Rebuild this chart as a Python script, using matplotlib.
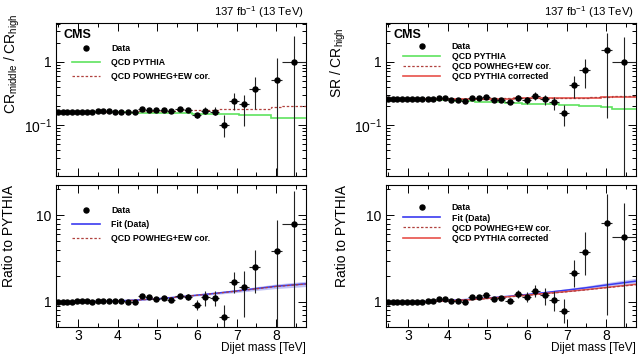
import numpy as np
import matplotlib
matplotlib.use('Agg')
import matplotlib.pyplot as plt
from matplotlib.lines import Line2D
from matplotlib.ticker import LogLocator, FixedLocator, MultipleLocator, NullFormatter, FuncFormatter

plt.rcParams['font.family'] = ['Liberation Sans', 'DejaVu Sans']
plt.rcParams['mathtext.fontset'] = 'custom'
plt.rcParams['mathtext.rm'] = 'Liberation Sans'
plt.rcParams['mathtext.it'] = 'Liberation Sans:italic'
plt.rcParams['mathtext.bf'] = 'Liberation Sans:bold'

# ---------------- data ----------------
data_lo = [2.438, 2.546, 2.659, 2.775, 2.895, 3.019, 3.147, 3.279, 3.416, 3.558, 3.704, 3.854,
           4.010, 4.171, 4.337, 4.509, 4.686, 4.869, 5.058, 5.253, 5.455, 5.663, 5.877, 6.099,
           6.328, 6.564, 6.808, 7.060, 7.320, 7.866, 8.152]
data_hi = [2.546, 2.659, 2.775, 2.895, 3.019, 3.147, 3.279, 3.416, 3.558, 3.704, 3.854, 4.010,
           4.171, 4.337, 4.509, 4.686, 4.869, 5.058, 5.253, 5.455, 5.663, 5.877, 6.099, 6.328,
           6.564, 6.808, 7.060, 7.320, 7.589, 8.152, 8.752]
model_edges = [2.438, 2.546, 2.659, 2.775, 2.895, 3.019, 3.147, 3.279, 3.416, 3.558, 3.704, 3.854,
               4.010, 4.171, 4.337, 4.509, 4.686, 4.869, 5.058, 5.253, 5.455, 5.663, 5.877, 6.099,
               6.328, 6.564, 6.808, 7.060, 7.320, 7.589, 7.866, 8.152, 8.752]

# top-left: CR_middle / CR_high
tl_val = [0.161, 0.161, 0.160, 0.160, 0.160, 0.160, 0.161, 0.159, 0.164, 0.164, 0.165, 0.162,
          0.162, 0.158, 0.160, 0.181, 0.175, 0.172, 0.172, 0.164, 0.180, 0.170, 0.142, 0.167,
          0.162, 0.100, 0.237, 0.215, 0.367, 0.51, 1.0]
tl_lo = [0.159, 0.159, 0.158, 0.158, 0.158, 0.158, 0.159, 0.157, 0.161, 0.161, 0.162, 0.158,
         0.158, 0.154, 0.155, 0.175, 0.169, 0.165, 0.164, 0.155, 0.169, 0.158, 0.131, 0.150,
         0.145, 0.064, 0.170, 0.095, 0.180, 0.0001, 0.0001]
tl_hi = [0.163, 0.163, 0.162, 0.162, 0.162, 0.162, 0.163, 0.161, 0.167, 0.167, 0.168, 0.166,
         0.166, 0.162, 0.165, 0.187, 0.181, 0.179, 0.180, 0.173, 0.191, 0.182, 0.155, 0.190,
         0.190, 0.142, 0.320, 0.300, 0.570, 1.13, 2.5]
tl_pythia = [0.160, 0.160, 0.160, 0.160, 0.160, 0.160, 0.160, 0.160, 0.160, 0.160, 0.160, 0.160,
             0.159, 0.158, 0.157, 0.156, 0.156, 0.156, 0.155, 0.155, 0.153, 0.152, 0.151, 0.150,
             0.150, 0.148, 0.147, 0.146, 0.146, 0.141, 0.128, 0.127]
tl_powheg = [0.160, 0.160, 0.160, 0.160, 0.160, 0.160, 0.160, 0.160, 0.160, 0.160, 0.160, 0.161,
             0.162, 0.162, 0.162, 0.164, 0.165, 0.166, 0.167, 0.168, 0.170, 0.172, 0.173, 0.174,
             0.175, 0.176, 0.177, 0.178, 0.179, 0.181, 0.190, 0.198]

# top-right: SR / CR_high
tr_val = [0.255, 0.255, 0.255, 0.255, 0.256, 0.255, 0.256, 0.255, 0.258, 0.260, 0.265, 0.265,
          0.252, 0.247, 0.243, 0.268, 0.270, 0.276, 0.250, 0.252, 0.232, 0.267, 0.245, 0.284,
          0.257, 0.228, 0.157, 0.43, 0.74, 1.53, 1.0]
tr_lo = [0.252, 0.252, 0.252, 0.252, 0.253, 0.252, 0.253, 0.252, 0.254, 0.256, 0.261, 0.260,
         0.247, 0.241, 0.236, 0.260, 0.261, 0.266, 0.240, 0.240, 0.218, 0.240, 0.215, 0.245,
         0.210, 0.170, 0.096, 0.264, 0.38, 0.127, 0.0001]
tr_hi = [0.258, 0.258, 0.258, 0.258, 0.259, 0.258, 0.259, 0.258, 0.262, 0.264, 0.269, 0.270,
         0.257, 0.253, 0.250, 0.276, 0.279, 0.286, 0.260, 0.264, 0.246, 0.294, 0.280, 0.330,
         0.300, 0.280, 0.207, 0.60, 1.09, 2.87, 2.43]
tr_pythia = [0.255, 0.255, 0.255, 0.255, 0.255, 0.255, 0.255, 0.255, 0.255, 0.252, 0.250, 0.249,
             0.245, 0.243, 0.241, 0.236, 0.234, 0.232, 0.230, 0.227, 0.225, 0.222, 0.217, 0.215,
             0.214, 0.213, 0.205, 0.203, 0.202, 0.197, 0.194, 0.180]
tr_powheg = [0.257, 0.257, 0.257, 0.257, 0.257, 0.257, 0.257, 0.257, 0.257, 0.257, 0.257, 0.257,
             0.258, 0.258, 0.258, 0.259, 0.259, 0.260, 0.262, 0.262, 0.263, 0.263, 0.264, 0.264,
             0.266, 0.267, 0.268, 0.269, 0.270, 0.272, 0.281, 0.283]
tr_corr = [0.255, 0.255, 0.255, 0.255, 0.255, 0.255, 0.255, 0.255, 0.255, 0.255, 0.255, 0.255,
           0.256, 0.256, 0.256, 0.257, 0.257, 0.258, 0.260, 0.261, 0.261, 0.262, 0.262, 0.263,
           0.265, 0.266, 0.267, 0.268, 0.269, 0.271, 0.279, 0.281]

# bottom-left: ratio to PYTHIA (CR)
bl_val = [1.00, 1.00, 1.00, 1.01, 1.02, 1.02, 1.02, 1.01, 1.03, 1.03, 1.04, 1.02, 1.04, 0.99,
          1.01, 1.17, 1.13, 1.09, 1.12, 1.06, 1.18, 1.13, 0.93, 1.13, 1.10, 0.68, 1.69, 1.50,
          2.55, 3.9, 7.9]
bl_lo = [0.99, 0.99, 0.99, 1.00, 1.01, 1.01, 1.01, 1.00, 1.02, 1.02, 1.02, 1.00, 1.02, 0.97,
         0.98, 1.12, 1.08, 1.04, 1.06, 1.00, 1.11, 1.05, 0.815, 0.905, 0.90, 0.45, 1.27, 0.68,
         1.27, 0.001, 0.001]
bl_hi = [1.01, 1.01, 1.01, 1.02, 1.03, 1.03, 1.03, 1.02, 1.04, 1.04, 1.06, 1.04, 1.06, 1.01,
         1.04, 1.22, 1.18, 1.14, 1.18, 1.12, 1.25, 1.22, 1.06, 1.33, 1.35, 0.93, 2.2, 2.3,
         4.0, 8.7, 19.0]

# bottom-right: ratio to PYTHIA (SR)
br_val = [1.00, 1.00, 1.00, 1.00, 1.01, 1.00, 1.00, 1.00, 1.02, 1.02, 1.07, 1.07, 1.04, 1.02,
          1.01, 1.14, 1.15, 1.21, 1.09, 1.11, 1.03, 1.24, 1.13, 1.35, 1.19, 1.06, 0.79, 2.16,
          3.8, 8.1, 5.6]
br_lo = [0.99, 0.99, 0.99, 0.99, 1.00, 0.99, 0.99, 0.99, 1.01, 1.01, 1.05, 1.05, 1.02, 1.00,
         0.98, 1.10, 1.11, 1.16, 1.04, 1.05, 0.97, 1.10, 1.00, 1.15, 0.92, 0.79, 0.567, 1.50,
         2.05, 0.70, 0.001]
br_hi = [1.01, 1.01, 1.01, 1.01, 1.02, 1.01, 1.01, 1.01, 1.03, 1.03, 1.09, 1.09, 1.06, 1.04,
         1.04, 1.18, 1.19, 1.26, 1.14, 1.17, 1.10, 1.37, 1.31, 1.57, 1.44, 1.34, 1.08, 3.05,
         6.45, 17.4, 13.8]

# smooth curves in ratio panels
curve_mass = [2.438, 3.0, 3.5, 4.0, 4.5, 5.0, 5.5, 6.0, 6.5, 7.0, 7.5, 8.0, 8.752]
bl_fit = [1.00, 1.005, 1.015, 1.03, 1.055, 1.09, 1.14, 1.20, 1.265, 1.34, 1.43, 1.52, 1.62]
bl_fit_unc = [0.006, 0.006, 0.007, 0.008, 0.010, 0.013, 0.017, 0.022, 0.030, 0.040, 0.050, 0.060, 0.070]
bl_powheg = [1.00, 1.004, 1.013, 1.028, 1.053, 1.088, 1.137, 1.196, 1.26, 1.335, 1.42, 1.51, 1.61]
br_fit = [1.00, 1.005, 1.015, 1.04, 1.07, 1.11, 1.16, 1.22, 1.29, 1.37, 1.46, 1.57, 1.74]
br_fit_unc = [0.006, 0.006, 0.007, 0.008, 0.010, 0.013, 0.017, 0.022, 0.030, 0.040, 0.050, 0.062, 0.080]
br_powheg = [1.00, 1.00, 1.01, 1.03, 1.055, 1.095, 1.14, 1.19, 1.25, 1.31, 1.38, 1.46, 1.58]
br_corr = [1.00, 1.00, 1.01, 1.03, 1.06, 1.10, 1.15, 1.20, 1.26, 1.32, 1.39, 1.47, 1.60]

# ---------------- style ----------------
C_GREEN = '#5fe35f'
C_DRED = '#b0413e'
C_RED = '#e8504a'
C_BLUE = '#3b3bf0'
C_BAND = '#a9a9f2'
FS = 10
LFS = 6.3

W, H = 642, 356
def rect(l, t, r, b):
    return [l / W, 1 - b / H, (r - l) / W, (b - t) / H]

fig = plt.figure(figsize=(6.42, 3.56), dpi=100)
ax_tl = fig.add_axes(rect(56, 23, 306, 176))
ax_bl = fig.add_axes(rect(56, 185, 306, 327))
ax_tr = fig.add_axes(rect(386, 23, 636, 176))
ax_br = fig.add_axes(rect(386, 185, 636, 327))

xc = (np.array(data_lo) + np.array(data_hi)) / 2
xe = (np.array(data_hi) - np.array(data_lo)) / 2

def draw_data(ax, val, lo, hi):
    v = np.array(val)
    yerr = [v - np.array(lo), np.array(hi) - v]
    ax.errorbar(xc, v, xerr=xe, yerr=yerr, fmt='o', color='black', ms=3.6,
                ecolor='#222222', elinewidth=0.8, capsize=0, zorder=6)

def fmt(y, pos):
    if abs(y - 1) < 1e-9:
        return '1'
    if abs(y - 10) < 1e-9:
        return '10'
    if abs(y - 0.1) < 1e-9:
        return r'$\mathregular{10^{-1}}$'
    return ''

for ax in (ax_tl, ax_bl, ax_tr, ax_br):
    ax.set_yscale('log')
    ax.set_xlim(2.438, 8.752)
    ax.xaxis.set_major_locator(FixedLocator([3, 4, 5, 6, 7, 8]))
    ax.xaxis.set_minor_locator(MultipleLocator(0.5))
    ax.yaxis.set_major_locator(LogLocator(base=10))
    ax.yaxis.set_minor_locator(LogLocator(base=10, subs=np.arange(2, 10)))
    ax.yaxis.set_major_formatter(FuncFormatter(fmt))
    ax.yaxis.set_minor_formatter(NullFormatter())
    ax.tick_params(which='both', direction='in', top=True, right=True, labelsize=FS, width=0.7)
    ax.tick_params(which='major', length=6, pad=3)
    ax.tick_params(which='minor', length=3)
    ax.tick_params(axis='x', which='major', pad=1.5)
    for s in ax.spines.values():
        s.set_linewidth(0.8)

for ax in (ax_tl, ax_tr):
    ax.set_ylim(0.0156, 4.08)
    ax.tick_params(axis='x', labelbottom=False)
for ax in (ax_bl, ax_br):
    ax.set_ylim(0.515, 22.3)

# top-left
ax_tl.stairs(tl_pythia, model_edges, baseline=None, color=C_GREEN, lw=1.2, zorder=3)
ax_tl.stairs(tl_powheg, model_edges, baseline=None, color=C_DRED, lw=0.9, ls=(0, (2, 1.5)), zorder=4)
draw_data(ax_tl, tl_val, tl_lo, tl_hi)

# top-right
ax_tr.stairs(tr_pythia, model_edges, baseline=None, color=C_GREEN, lw=1.2, zorder=3)
ax_tr.stairs(tr_corr, model_edges, baseline=None, color=C_RED, lw=1.2, zorder=3)
ax_tr.stairs(tr_powheg, model_edges, baseline=None, color=C_DRED, lw=0.9, ls=(0, (2, 1.5)), zorder=4)
draw_data(ax_tr, tr_val, tr_lo, tr_hi)

# bottom-left
cm = np.array(curve_mass)
f = np.array(bl_fit); u = np.array(bl_fit_unc)
ax_bl.fill_between(cm, f * (1 - u), f * (1 + u), color=C_BAND, alpha=0.7, lw=0, zorder=2)
ax_bl.plot(cm, f, color=C_BLUE, lw=1.1, zorder=3)
ax_bl.plot(cm, bl_powheg, color=C_DRED, lw=0.9, ls=(0, (2, 1.5)), zorder=4)
draw_data(ax_bl, bl_val, bl_lo, bl_hi)

# bottom-right
f = np.array(br_fit); u = np.array(br_fit_unc)
ax_br.fill_between(cm, f * (1 - u), f * (1 + u), color=C_BAND, alpha=0.7, lw=0, zorder=2)
ax_br.plot(cm, f, color=C_BLUE, lw=1.1, zorder=3)
ax_br.plot(cm, br_corr, color=C_RED, lw=1.0, zorder=3)
ax_br.plot(cm, br_powheg, color=C_DRED, lw=0.9, ls=(0, (2, 1.5)), zorder=4)
draw_data(ax_br, br_val, br_lo, br_hi)

# legends
h_data = Line2D([], [], marker='o', ls='none', color='black', ms=3.6)
h_py = Line2D([], [], color=C_GREEN, lw=1.2)
h_pw = Line2D([], [], color=C_DRED, lw=0.9, ls=(0, (2, 1.5)))
h_corr = Line2D([], [], color=C_RED, lw=1.2)
h_fit = Line2D([], [], color=C_BLUE, lw=1.2)
lp = dict(frameon=False, loc='upper left', borderpad=0, borderaxespad=0,
          prop=dict(size=LFS, weight='bold'), handletextpad=1.3)

ax_tl.legend([h_data, h_py, h_pw], ['Data', 'QCD PYTHIA', 'QCD POWHEG+EW cor.'],
             bbox_to_anchor=(0.064, 0.86), handlelength=3.2, labelspacing=0.55, **lp)
ax_tr.legend([h_data, h_py, h_pw, h_corr],
             ['Data', 'QCD PYTHIA', 'QCD POWHEG+EW cor.', 'QCD PYTHIA corrected'],
             bbox_to_anchor=(0.067, 0.875), handlelength=4.3, labelspacing=0.1, **lp)
ax_bl.legend([h_data, h_fit, h_pw], ['Data', 'Fit (Data)', 'QCD POWHEG+EW cor.'],
             bbox_to_anchor=(0.064, 0.85), handlelength=3.2, labelspacing=0.55, **lp)
ax_br.legend([h_data, h_fit, h_pw, h_corr],
             ['Data', 'Fit (Data)', 'QCD POWHEG+EW cor.', 'QCD PYTHIA corrected'],
             bbox_to_anchor=(0.067, 0.87), handlelength=4.3, labelspacing=0.12, **lp)

# texts
for ax in (ax_tl, ax_tr):
    ax.text(0.032, 0.96, 'CMS', transform=ax.transAxes, fontsize=9, fontweight='bold',
            ha='left', va='top')
    ax.text(0.99, 1.02, r'137 fb$^{\mathregular{-1}}$ (13 TeV)', transform=ax.transAxes,
            fontsize=8.2, ha='right', va='bottom')

ax_tl.set_ylabel(r'CR$_{\mathregular{middle}}$ / CR$_{\mathregular{high}}$', fontsize=FS, loc='top')
ax_tl.yaxis.set_label_coords(-0.136, 1.065)
ax_tr.set_ylabel(r'SR / CR$_{\mathregular{high}}$', fontsize=FS, loc='top')
ax_tr.yaxis.set_label_coords(-0.150, 0.975)
ax_bl.set_ylabel('Ratio to PYTHIA', fontsize=FS, loc='top')
ax_bl.yaxis.set_label_coords(-0.160, 1.0)
ax_br.set_ylabel('Ratio to PYTHIA', fontsize=FS, loc='top')
ax_br.yaxis.set_label_coords(-0.148, 1.0)
for ax in (ax_bl, ax_br):
    ax.set_xlabel('Dijet mass [TeV]', fontsize=8.5, loc='right')
    ax.xaxis.set_label_coords(1.0, -0.108)

fig.savefig('out.png', dpi=100)
